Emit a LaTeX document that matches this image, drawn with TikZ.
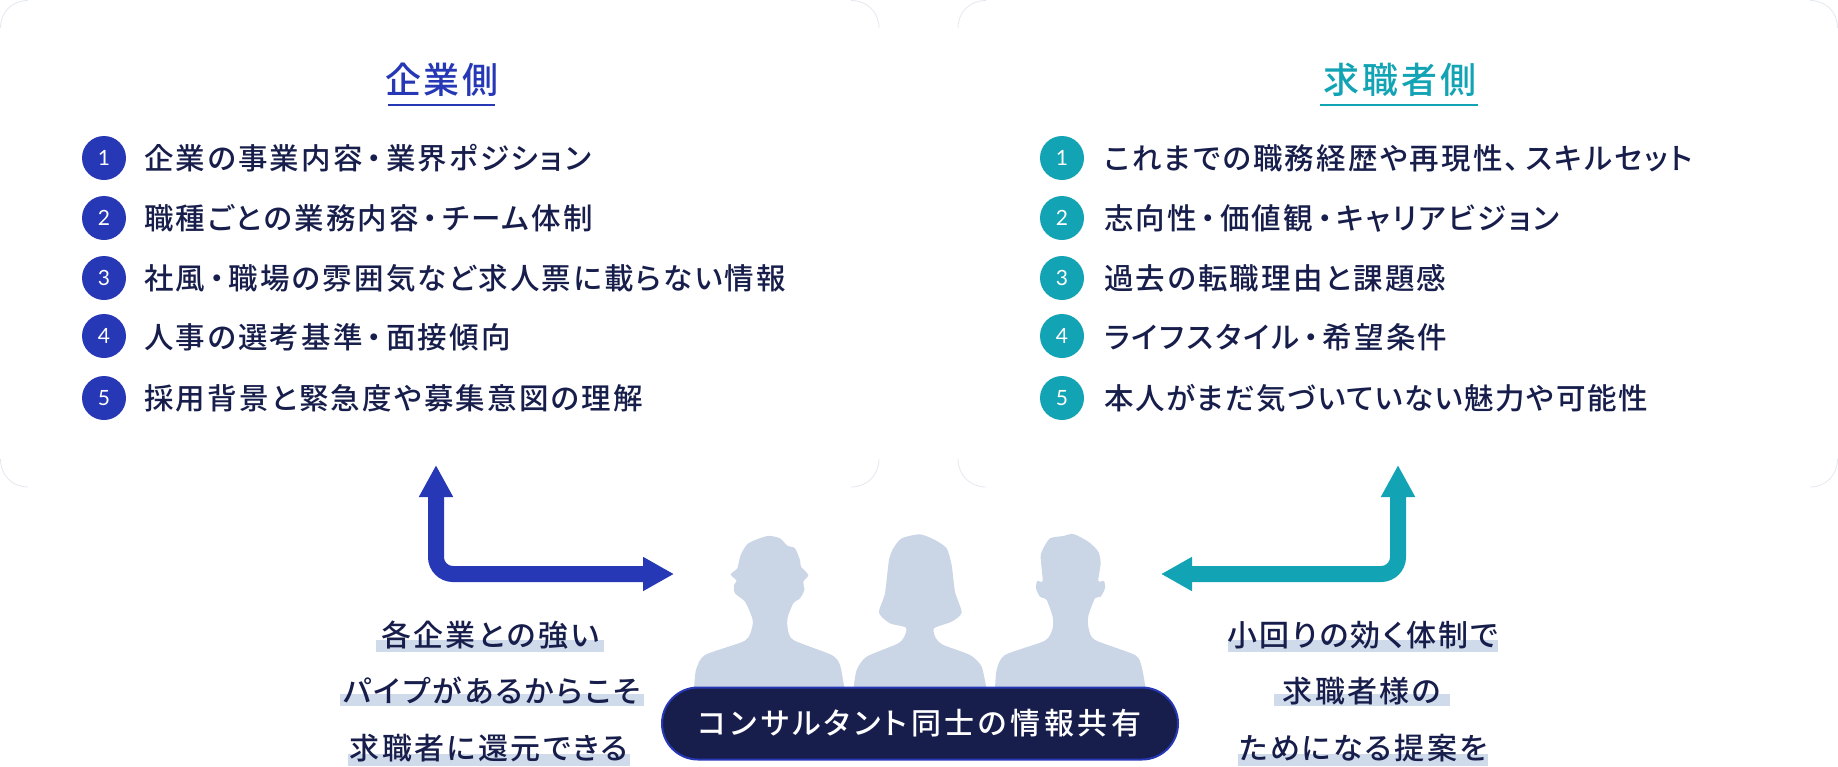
\documentclass[tikz,border=0pt]{standalone}
\usepackage{fontspec}
\usetikzlibrary{arrows.meta}
\setmainfont{Lato}
\newfontfamily\jplist[RawFeature=+palt,LetterSpace=7.5]{Noto Sans CJK JP Medium}
\newfontfamily\jplisttight[RawFeature=+palt,LetterSpace=5.3]{Noto Sans CJK JP Medium}
\newfontfamily\jptitle[RawFeature=+palt,LetterSpace=8]{Noto Sans CJK JP Medium}
\newfontfamily\jplabel[RawFeature=+palt,LetterSpace=8]{Noto Sans CJK JP Medium}
\newfontfamily\jppill[RawFeature=+palt,LetterSpace=12]{Noto Sans CJK JP Medium}
\newcommand{\nk}{\kern4.2pt・\kern4.2pt}
\definecolor{cblue}{HTML}{2638B5}
\definecolor{cteal}{HTML}{12A3B4}
\definecolor{cnavy}{HTML}{171E4B}
\definecolor{cperson}{HTML}{CAD5E6}
\definecolor{cbar}{HTML}{CFDAEA}
\definecolor{ccard}{HTML}{E4E8F0}
\tikzset{
  card/.style={fill=white,draw=none,rounded corners=28pt,minimum width=#1,minimum height=487pt,inner sep=0pt},
  cardcorner/.style={draw=ccard,line width=0.8pt},
  numdot/.style={circle,fill=#1,minimum size=44pt,inner sep=0pt,text=white,font=\fontsize{21}{21}\selectfont},
  itemtext/.style={anchor=west,inner sep=0pt,text=cnavy,font=\jplist\fontsize{29.5}{29.5}\selectfont},
  itemtight/.style={anchor=west,inner sep=0pt,text=cnavy,font=\jplisttight\fontsize{29.5}{29.5}\selectfont},
  titletext/.style={inner sep=0pt,text=#1,font=\jptitle\fontsize{36}{36}\selectfont},
  labeltext/.style={inner sep=0pt,text=cnavy,font=\jplabel\fontsize{30}{30}\selectfont},
  bar/.style={fill=cbar,draw=none},
  person/.style={fill=cperson,draw=none},
  bigarrow/.style={line width=16pt,draw=#1,rounded corners=17pt,{Triangle[width=32pt,length=32pt]}-{Triangle[width=32pt,length=31pt]}},
}
\begin{document}
\begin{tikzpicture}[x=1pt,y=-1pt]
\useasboundingbox (0,0) rectangle (1838,766);
% cards
\node[card=879pt] (cardL) at (439.5,243.5) {};
\node[card=880pt] (cardR) at (1398,243.5) {};
% card corners (only the corners show a faint edge)
\draw[cardcorner] (0.5,28) .. controls (0.5,12) and (12,0.5) .. (28,0.5);
\draw[cardcorner] (851,0.5) .. controls (867,0.5) and (879,12) .. (879,28);
\draw[cardcorner] (0.5,459) .. controls (0.5,475) and (12,487) .. (28,487);
\draw[cardcorner] (879,459) .. controls (879,475) and (867,487) .. (851,487);
\draw[cardcorner] (958,28) .. controls (958,12) and (970,0.5) .. (986,0.5);
\draw[cardcorner] (1810,0.5) .. controls (1826,0.5) and (1837.5,12) .. (1837.5,28);
\draw[cardcorner] (958,459) .. controls (958,475) and (970,487) .. (986,487);
\draw[cardcorner] (1837.5,459) .. controls (1837.5,475) and (1826,487) .. (1810,487);
% titles
\node[titletext=cblue] (titleL) at (442,79.5) {企業側};
\fill[cblue] (388,104) rectangle (495,106);
\node[titletext=cteal] (titleR) at (1400,79.5) {求職者側};
\fill[cteal] (1320,104) rectangle (1478,106);
% left list
\node[numdot=cblue] (l1) at (104,158) {1};
\node[numdot=cblue] (l2) at (104,218) {2};
\node[numdot=cblue] (l3) at (104,278) {3};
\node[numdot=cblue] (l4) at (104,336) {4};
\node[numdot=cblue] (l5) at (104,398) {5};
\node[itemtext] (lt1) at (144,158) {企業の事業内容\nk 業界ポジション};
\node[itemtext] (lt2) at (144,218) {職種ごとの業務内容\nk チーム体制};
\node[itemtext] (lt3) at (144,278) {社風\nk 職場の雰囲気など求人票に載らない情報};
\node[itemtext] (lt4) at (144,337) {人事の選考基準\nk 面接傾向};
\node[itemtext] (lt5) at (144,398) {採用背景と緊急度や募集意図の理解};
% right list
\node[numdot=cteal] (r1) at (1062,158) {1};
\node[numdot=cteal] (r2) at (1062,218) {2};
\node[numdot=cteal] (r3) at (1062,278) {3};
\node[numdot=cteal] (r4) at (1062,336) {4};
\node[numdot=cteal] (r5) at (1062,398) {5};
\node[itemtext] (rt1) at (1104,158) {これまでの職務経歴や再現性、\kern6pt スキルセット};
\node[itemtext] (rt2) at (1104,218) {志向性\nk 価値観\nk キャリアビジョン};
\node[itemtext] (rt3) at (1104,278) {過去の転職理由と課題感};
\node[itemtext] (rt4) at (1104,337) {ライフスタイル\nk 希望条件};
\node[itemtight] (rt5) at (1104,398) {本人がまだ気づいていない魅力や可能性};
% arrows
\coordinate (aLtop) at (436,465);
\coordinate (aLend) at (674,574);
\coordinate (aRtop) at (1398,465);
\coordinate (aRend) at (1161,574);
\draw[bigarrow=cblue] (aLtop) |- (aLend);
\draw[bigarrow=cteal] (aRtop) |- (aRend);
% persons
\begin{scope}[shift={(680,510)},x=0.3333pt,y=-0.3333pt]
\fill[person] plot[smooth,tension=.4] coordinates {(42,540) (48,480) (75,435) (195,392) (217,350) (217,325) (195,275) (165,250) (162,225) (170,212) (152,193) (172,175) (182,135) (205,100) (262,78) (300,85) (322,107) (345,115) (360,150) (363,170) (385,195) (370,215) (373,240) (360,265) (340,280) (323,322) (323,355) (340,390) (455,435) (480,465) (494,540)} -- cycle;
\fill[person] plot[smooth,tension=.4] coordinates {(520,540) (530,480) (560,440) (655,400) (675,375) (677,352) (630,340) (597,308) (615,250) (627,150) (640,115) (665,85) (720,73) (765,90) (800,115) (815,165) (825,245) (845,308) (815,335) (762,355) (768,385) (790,405) (870,435) (905,470) (920,540)} -- cycle;
\fill[person] plot[smooth,tension=.4] coordinates {(945,540) (950,480) (975,435) (1095,392) (1118,355) (1118,320) (1100,270) (1080,260) (1068,235) (1072,213) (1088,213) (1082,140) (1090,115) (1110,85) (1150,78) (1180,72) (1225,95) (1255,125) (1262,160) (1255,213) (1272,213) (1275,235) (1262,260) (1245,265) (1225,318) (1226,355) (1245,390) (1365,435) (1385,470) (1398,540)} -- cycle;
\end{scope}
% pill
\node[draw=cblue,line width=2pt,fill=cnavy,rounded corners=36pt,minimum width=516pt,minimum height=72pt,inner sep=0pt,text=white,font=\jppill\fontsize{30}{30}\selectfont] (pill) at (920,723.5) {コンサルタント同士の情報共有};
% highlight bars
\fill[bar] (376,640) rectangle (604,652);
\fill[bar] (340,694) rectangle (644,706);
\fill[bar] (348,754) rectangle (630,766);
\fill[bar] (1228,640) rectangle (1498,652);
\fill[bar] (1274,694) rectangle (1450,706);
\fill[bar] (1238,754) rectangle (1488,766);
% labels
\node[labeltext] (lb1) at (490,635) {各企業との強い};
\node[labeltext] (lb2) at (492,691) {パイプがあるからこそ};
\node[labeltext] (lb3) at (489,748) {求職者に還元できる};
\node[labeltext] (rb1) at (1363,635) {小回りの効く体制で};
\node[labeltext] (rb2) at (1362,691) {求職者様の};
\node[labeltext] (rb3) at (1363,748) {ためになる提案を};
\end{tikzpicture}
\end{document}
